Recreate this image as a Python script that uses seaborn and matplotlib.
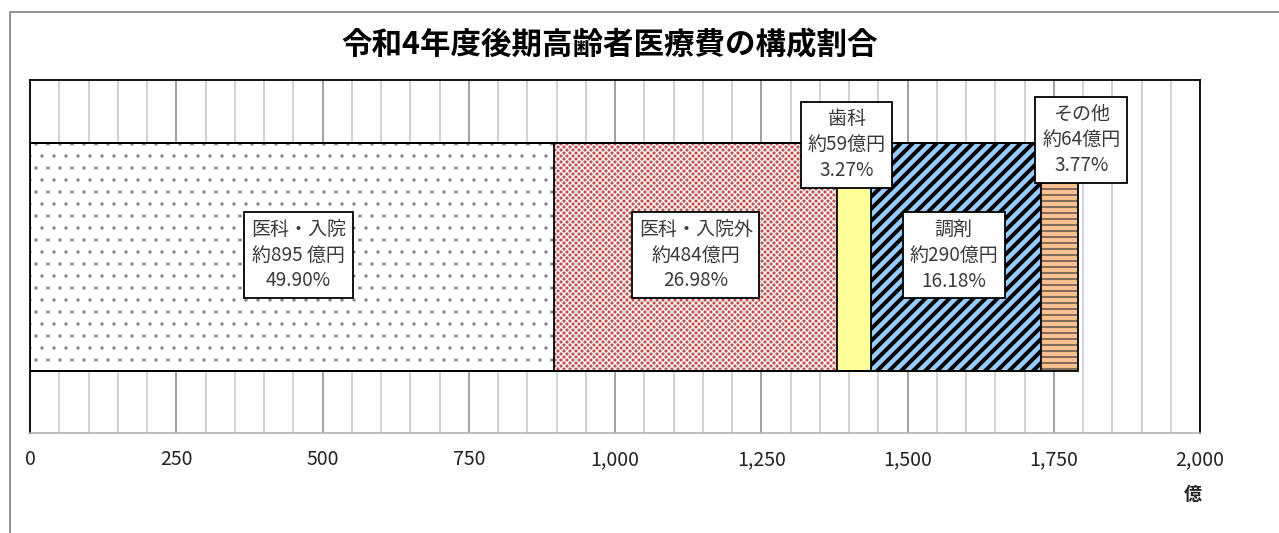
import matplotlib
matplotlib.use("Agg")
import matplotlib.pyplot as plt
import matplotlib.patches as mpatches
import matplotlib.ticker as mticker
import seaborn as sns
import numpy as np
import pandas as pd

# ---- data ----
categories = ["医科・入院", "医科・入院外", "歯科", "調剤", "その他"]
values = [895, 484, 59, 290, 64]          # 億円
shares = ["49.90%", "26.98%", "3.27%", "16.18%", "3.77%"]
amount_labels = ["約895 億円", "約484億円", "約59億円", "約290億円", "約64億円"]
x_ticks = [0, 250, 500, 750, 1000, 1250, 1500, 1750, 2000]
title = "令和4年度後期高齢者医療費の構成割合"
unit = "億"

# ---- styles ----
face_colors = ["#ffffff", "#c0504d", "#ffff99", "#99ccff", "#fac090"]
hatch_patterns = [".", "xxxx", "", "//", "--"]
hatch_colors = ["#808080", "#ffffff", "#ffff99", "#000000", "#404040"]
hatch_lws = [0.8, 1.4, 1.0, 4.0, 1.3]
# label positions: (x in data units, y in axes fraction)
label_pos = [(459, 0.504), (1138, 0.504), (1396, 0.817), (1579, 0.503), (1797, 0.831)]

DPI = 72
sns.set_theme(style="white")
plt.rcParams["font.family"] = ["Noto Sans CJK JP", "DejaVu Sans"]

fig = plt.figure(figsize=(1279 / DPI, 533 / DPI), dpi=DPI)
ax = fig.add_axes([30 / 1279, 1 - 433 / 533, 1170 / 1279, 353 / 533])

cum_end = np.cumsum(values)
df = pd.DataFrame({"cat": categories, "value": values, "end": cum_end})

bar_w = 228 / 353
# fills (drawn from the longest cumulative bar to the shortest)
for i in reversed(range(len(categories))):
    n_before = len(ax.patches)
    with plt.rc_context({"hatch.linewidth": hatch_lws[i]}):
        sns.barplot(x=[df["end"][i]], y=["total"], orient="h", width=bar_w,
                    color=face_colors[i], saturation=1, ax=ax,
                    hatch=hatch_patterns[i] if hatch_patterns[i] else None,
                    edgecolor=hatch_colors[i], linewidth=0, zorder=2)
    for p in ax.patches[n_before:]:
        if hasattr(p, "set_hatch_linewidth"):
            p.set_hatch_linewidth(hatch_lws[i])
# outlines
for i in reversed(range(len(categories))):
    sns.barplot(x=[df["end"][i]], y=["total"], orient="h", width=bar_w,
                fill=False, color="black", saturation=1, ax=ax,
                edgecolor="black", linewidth=1.8, zorder=3)

ax.set_ylim(0.5, -0.5)
ax.set_xlim(0, 2000)
ax.set_ylabel("")
ax.set_xlabel("")
ax.set_yticks([])

# gridlines
ax.xaxis.set_major_locator(mticker.FixedLocator(x_ticks))
ax.xaxis.set_minor_locator(mticker.MultipleLocator(50))
ax.set_xticklabels([f"{t:,}" for t in x_ticks], fontsize=19.5, color="#222222")
ax.tick_params(axis="x", which="both", length=0, pad=16)
ax.grid(which="major", axis="x", color="#8c8c8c", linewidth=1.6, zorder=0)
ax.grid(which="minor", axis="x", color="#c8c8c8", linewidth=1.6, zorder=0)
ax.set_axisbelow(True)

for s in ["top", "left", "right"]:
    ax.spines[s].set_color("black")
    ax.spines[s].set_linewidth(1.8)
ax.spines["bottom"].set_color("#b0b0b0")
ax.spines["bottom"].set_linewidth(1.6)

# data labels
for i in range(len(categories)):
    x, y = label_pos[i]
    ax.text(x, y, f"{categories[i]}\n{amount_labels[i]}\n{shares[i]}",
            transform=ax.get_xaxis_transform(), ha="center", va="center",
            fontsize=19, color="#3a3a3a", linespacing=1.3, zorder=5,
            bbox=dict(boxstyle="square,pad=0.35", facecolor="white",
                      edgecolor="black", linewidth=1.8))

# title and unit
fig.text(610 / 1279, 1 - 45 / 533, title, ha="center", va="center",
         fontsize=30.5, fontweight="bold", color="black")
fig.text(1193 / 1279, 1 - 495 / 533, unit, ha="center", va="center",
         fontsize=18, fontweight="bold", color="#222222")

# outer chart frame
frame = mpatches.Rectangle((10 / 1279, -0.1), 1.2, 1 - 12 / 533 + 0.1,
                           transform=fig.transFigure, fill=False,
                           edgecolor="#8a8a8a", linewidth=1.8)
fig.add_artist(frame)

fig.savefig("out.png", dpi=DPI)
